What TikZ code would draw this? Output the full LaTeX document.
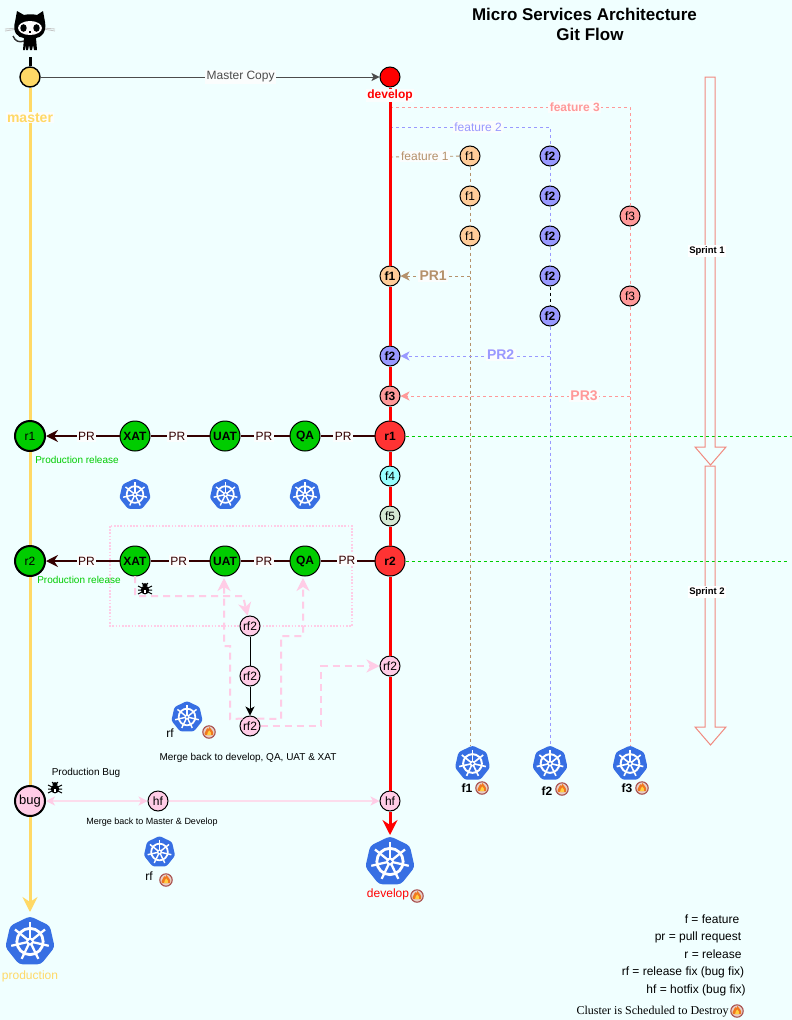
\documentclass[tikz,border=0pt]{standalone}
\usepackage{fontspec}
\setmainfont{Liberation Sans}
\newfontfamily\serifface{Liberation Serif}
\usetikzlibrary{arrows.meta,calc}
\definecolor{bgc}{HTML}{F0FFFF}
\definecolor{gityellow}{HTML}{FFD966}
\definecolor{devred}{HTML}{FF0000}
\definecolor{relred}{HTML}{FF3333}
\definecolor{okgreen}{HTML}{00CC00}
\definecolor{prdark}{HTML}{330000}
\definecolor{fonec}{HTML}{FFCC99}
\definecolor{fonel}{HTML}{B5916B}
\definecolor{ftwoc}{HTML}{9999FF}
\definecolor{fthreec}{HTML}{FF9999}
\definecolor{ffourc}{HTML}{99FFFF}
\definecolor{ffivec}{HTML}{D5E8D4}
\definecolor{pinkc}{HTML}{FFCCE6}
\definecolor{pinklight}{HTML}{FCDCEC}
\definecolor{kubec}{HTML}{376FE3}
\definecolor{sprintc}{HTML}{F08A80}
\definecolor{lblbg}{HTML}{FBFDFD}
\definecolor{flring}{HTML}{A8504E}
\definecolor{flpale}{HTML}{E8D0C8}
\definecolor{florange}{HTML}{F07820}
\definecolor{flyellow}{HTML}{FFD040}
\newcommand{\fs}[1]{\fontsize{#1}{#1}\selectfont}
\newcommand{\kube}[3]{%
  \begin{scope}[shift={(#1,#2)},scale=#3]
    \fill[kubec,rounded corners=#3*0.14pt] (-90:1) -- (-38.57:1) -- (12.86:1) -- (64.29:1) -- (115.71:1) -- (167.14:1) -- (218.57:1) -- cycle;
    \draw[white,line width=#3*0.11pt] (0,0) circle (0.52);
    \foreach \a in {-90,-38.57,12.86,64.29,115.71,167.14,218.57}{
      \draw[white,line width=#3*0.09pt] (\a:0.1) -- (\a:0.76);
    }
    \fill[white] (0,0) circle (0.16);
    \fill[kubec] (0,0) circle (0.07);
  \end{scope}}
\newcommand{\flameicon}[2]{%
  \begin{scope}[shift={(#1,#2)}]
    \fill[flpale,draw=flring,line width=1.1pt] (0,0) circle (6.2);
    \fill[florange] (-4.2,3.2) .. controls (-5.2,-0.5) and (-2.2,-1.2) .. (-1.8,-3.8) .. controls (-0.8,-2.8) and (0,-2.4) .. (0.4,-5) .. controls (2.2,-2.6) and (5,-0.6) .. (4.2,3.2) -- cycle;
    \fill[flyellow] (-2,3.2) .. controls (-2.6,0.8) and (0,0) .. (0.2,-1.6) .. controls (1.6,0) and (2.6,1) .. (2,3.2) -- cycle;
  \end{scope}}
\newcommand{\bugicon}[2]{%
  \begin{scope}[shift={(#1,#2)}]
    \fill[black] (0,1) ellipse (4.2 and 4.4);
    \fill[black] (0,-4) ellipse (2.6 and 1.8);
    \draw[black,line width=1pt] (-7,-3) -- (-3,-1) (7,-3) -- (3,-1) (-7,1) -- (3,1) (7,1) -- (-3,1) (-7,5) -- (-3,3) (7,5) -- (3,3) (-3,-6) -- (-1,-4) (3,-6) -- (1,-4);
    \fill[white] (-0.6,1) rectangle (0.6,4);
  \end{scope}}
\tikzset{
  x=1pt,y=-1pt,
  smalltip/.tip={Stealth[length=9pt,width=9pt,inset=2.5pt,color=pinkc]},
  gitnode/.style={circle,draw=black,line width=1pt,minimum size=20pt,inner sep=0pt,font=\fs{12}},
  fone/.style={gitnode,fill=fonec},
  ftwo/.style={gitnode,fill=ftwoc,font=\fs{12}\bfseries},
  fthree/.style={gitnode,fill=fthreec},
  rfnode/.style={gitnode,fill=pinkc},
  relnode/.style={gitnode,minimum size=30pt,fill=relred,font=\fs{12}\bfseries},
  envnode/.style={gitnode,minimum size=30pt,fill=okgreen,font=\fs{12}\bfseries},
  prodnode/.style={gitnode,minimum size=30pt,fill=okgreen,line width=2pt},
  flbl/.style={fill=lblbg,inner sep=1.5pt,font=\fs{12}},
  prlbl/.style={fill=lblbg,inner sep=1.5pt,text=prdark,font=\fs{12}},
  prline/.style={prdark,line width=2pt},
  prtiped/.style={-{Stealth[length=12pt,width=12pt,inset=4pt]}},
  fdash/.style={line width=0.9pt,dash pattern=on 3pt off 3pt},
  prtip/.style={-{Stealth[length=9pt,width=9pt,inset=2.5pt]}},
  pinkdash/.style={pinkc,line width=2pt,dash pattern=on 7pt off 5pt},
  pinktip/.style={-{Stealth[length=13pt,width=13pt,inset=4pt]}},
  txt/.style={inner sep=0pt,font=\fs{12}},
  sprint/.style={sprintc,line width=1pt},
  sprintlbl/.style={fill=white,inner sep=1.5pt,font=\fs{9.5}\bfseries},
}
\begin{document}
\begin{tikzpicture}
\fill[bgc] (0,0) rectangle (792,1020);
\useasboundingbox (0,0) rectangle (792,1020);

% octocat
\begin{scope}
  \draw[gray!45,line width=0.8pt] (5,31) -- (18,29) (5,29) -- (18,28) (43,29) -- (55,31) (43,28) -- (55,29);
  \fill[black] (15,22) -- (17,11) -- (24,15) .. controls (28,14) and (33,14) .. (37,15) -- (43,11) -- (45,22) .. controls (47,32) and (41,38) .. (36,38) -- (37,50) -- (34,50) -- (33,45) -- (32,50) -- (30,50) -- (29,45) -- (28,50) -- (26,50) -- (26,45) -- (25,50) -- (23,50) -- (24,38) .. controls (18,38) and (12,32) .. (15,22) -- cycle;
  \fill[white!95!pink] (30,28) ellipse (12 and 7);
  \fill[black] (23.5,28) ellipse (3.2 and 3.8);
  \fill[black] (36.5,28) ellipse (3.2 and 3.8);
  \fill[black] (29,31) rectangle (31,32.5);
  \draw[black!80,line width=1.4pt] (13,36) .. controls (15,41) and (19,43) .. (24,41);
\end{scope}
\coordinate (octo) at (30,57);

% dotted frame behind the nodes
\draw[pinkc,line width=1.6pt,dash pattern=on 1.6pt off 1.6pt] (110,526) rectangle (352,626);

% main nodes
\node[gitnode,fill=gityellow,line width=1.4pt] (master) at (30,77) {};
\node[gitnode,fill=devred] (develop) at (390,77) {};
\node[fone,font=\fs{12}\bfseries] (mf1) at (390,276) {f1};
\node[ftwo] (mf2) at (390,356) {f2};
\node[fthree,font=\fs{12}\bfseries] (mf3) at (390,396) {f3};
\node[relnode] (r1) at (390,436) {r1};
\node[gitnode,fill=ffourc] (f4) at (390,476) {f4};
\node[gitnode,fill=ffivec] (f5) at (390,516) {f5};
\node[relnode] (r2) at (390,561) {r2};
\node[rfnode] (drf) at (390,666) {rf2};
\node[rfnode] (dhf) at (390,801) {hf};
\coordinate (devend) at (390,835);
\coordinate (prodend) at (30,912);

\node[prodnode] (pr1) at (30,436) {r1};
\node[envnode] (xat1) at (135,436) {XAT};
\node[envnode] (uat1) at (225,436) {UAT};
\node[envnode] (qa1) at (305,436) {QA};
\node[prodnode] (pr2) at (30,561) {r2};
\node[envnode] (xat2) at (135,561) {XAT};
\node[envnode] (uat2) at (225,561) {UAT};
\node[envnode] (qa2) at (305,561) {QA};
\node[gitnode,minimum size=30pt,fill=pinkc,line width=2pt,font=\fs{13}] (bug) at (30,801) {bug};
\node[rfnode] (hf) at (158,801) {hf};

% feature nodes
\node[fone] (fa) at (470,156) {f1};
\node[fone] (fb) at (470,196) {f1};
\node[fone] (fc) at (470,236) {f1};
\node[ftwo] (ga) at (550,156) {f2};
\node[ftwo] (gb) at (550,196) {f2};
\node[ftwo] (gc) at (550,236) {f2};
\node[ftwo] (gd) at (550,276) {f2};
\node[ftwo] (ge) at (550,316) {f2};
\node[fthree] (ha) at (630,216) {f3};
\node[fthree] (hb) at (630,296) {f3};
\node[rfnode] (rfa) at (250,626) {rf2};
\node[rfnode] (rfb) at (250,676) {rf2};
\node[rfnode] (rfc) at (250,726) {rf2};

\coordinate (fs) at (390,157);
\coordinate (gs) at (390,127);
\coordinate (hs) at (390,107);
\coordinate (gt) at (550,127);
\coordinate (ht) at (630,107);
\coordinate (fe) at (470,746);
\coordinate (ge2) at (550,746);
\coordinate (he) at (630,746);
\coordinate (fp) at (470,276);
\coordinate (gp) at (550,356);
\coordinate (hp) at (630,396);

% feature lines
\draw[fonel,fdash] (fs) -- node[flbl,pos=.5,text=fonel] (lf1) {feature 1} (fa);
\draw[fonel,fdash] (fa) -- (fb);
\draw[fonel,fdash] (fb) -- (fc);
\draw[fonel,fdash] (fc) -- (fe);
\draw[ftwoc,fdash] (gs) -- node[flbl,pos=.55,text=ftwoc] (lf2) {feature 2} (gt) -- (ga);
\draw[ftwoc,fdash] (ga) -- (gb);
\draw[ftwoc,fdash] (gb) -- (gc);
\draw[ftwoc,fdash] (gc) -- (gd);
\draw[black,fdash] (gd) -- (ge);
\draw[ftwoc,fdash] (ge) -- (ge2);
\draw[fthreec,fdash] (hs) -- node[flbl,pos=.77,text=fthreec,font=\fs{12}\bfseries] (lf3) {feature 3} (ht) -- (ha);
\draw[fthreec,fdash] (ha) -- (hb);
\draw[fthreec,fdash] (hb) -- (he);

% pull requests of the features
\draw[fonel,fdash,prtip] (fp) -- node[flbl,pos=.53,font=\fs{14}\bfseries,text=fonel] (lp1) {PR1} (mf1);
\draw[ftwoc,fdash,prtip] (gp) -- node[flbl,pos=.33,yshift=1pt,font=\fs{14}\bfseries,text=ftwoc] (lp2) {PR2} (mf2);
\draw[fthreec,fdash,prtip] (hp) -- node[flbl,pos=.2,font=\fs{14}\bfseries,text=fthreec] (lp3) {PR3} (mf3);

% sprint boundary lines
\coordinate (gr1) at (792,436);
\coordinate (gr2) at (788,561);
\draw[okgreen,line width=0.9pt,dash pattern=on 3pt off 3pt] (r1) -- (gr1);
\draw[okgreen,line width=0.9pt,dash pattern=on 3pt off 3pt] (r2) -- (gr2);

% develop trunk
\draw[devred,line width=3pt] (develop) -- node[pos=.045,fill=lblbg,inner sep=1pt,text=devred,font=\fs{12}\bfseries] (ldev) {develop} (mf1);
\draw[devred,line width=3pt] (mf1) -- (mf2);
\draw[devred,line width=3pt] (mf2) -- (mf3);
\draw[devred,line width=3pt] (mf3) -- (r1);
\draw[devred,line width=3pt] (r1) -- (f4);
\draw[devred,line width=3pt] (f4) -- (f5);
\draw[devred,line width=3pt] (f5) -- (r2);
\draw[devred,line width=3pt] (r2) -- (drf);
\draw[devred,line width=3pt] (drf) -- (dhf);
\draw[devred,line width=3pt,-{Stealth[length=15pt,width=15pt,inset=5pt]}] (dhf) -- (devend);

% master trunk
\draw[black,line width=3pt] (octo) -- (master);
\draw[gityellow,line width=3pt] (master) -- node[pos=.09,fill=lblbg,inner sep=1pt,text=gityellow,font=\fs{14}\bfseries] (lmaster) {master} (pr1);
\draw[gityellow,line width=3pt] (pr1) -- (pr2);
\draw[gityellow,line width=3pt] (pr2) -- (bug);
\draw[gityellow,line width=3pt,-{Stealth[length=15pt,width=15pt,inset=5pt]}] (bug) -- (prodend);
\draw[black!70,line width=1pt,-{Stealth[length=8pt,width=8pt,inset=2pt]}] (master) -- node[flbl,pos=.59] (lcopy) {Master Copy} (develop);

% release rows
\draw[prline] (r1) -- node[prlbl,pos=.58] (p1a) {PR} (qa1);
\draw[prline] (qa1) -- node[prlbl,pos=.52] (p1b) {PR} (uat1);
\draw[prline] (uat1) -- node[prlbl,pos=.55] (p1c) {PR} (xat1);
\draw[prline,prtiped] (xat1) -- node[prlbl,pos=.45] (p1d) {PR} (pr1);
\draw[prline] (r2) -- node[prlbl,pos=.51,yshift=1pt] (p2a) {PR} (qa2);
\draw[prline] (qa2) -- node[prlbl,pos=.52] (p2b) {PR} (uat2);
\draw[prline] (uat2) -- node[prlbl,pos=.52] (p2c) {PR} (xat2);
\draw[prline,prtiped] (xat2) -- node[prlbl,pos=.45] (p2d) {PR} (pr2);

% release fix area
\coordinate (ba) at (135,576);
\coordinate (bb) at (135,596);
\coordinate (bc) at (243,596);
\draw[pinkdash,pinktip] (ba) -- (bb) -- (bc) -- (rfa);
\draw[black,line width=1pt] (rfa) -- (rfb);
\draw[black,line width=1pt,-{Stealth[length=9pt,width=9pt,inset=2.5pt]}] (rfb) -- (rfc);
\coordinate (ua) at (230,719);
\coordinate (ub) at (230,646);
\coordinate (uc) at (224,646);
\coordinate (ud) at (224,578);
\draw[pinkdash,pinktip] (rfc.135) -- (ua) -- (ub) -- (uc) -- (ud);
\coordinate (qa) at (281,719);
\coordinate (qb) at (281,636);
\coordinate (qc) at (303,636);
\coordinate (qd) at (303,578);
\draw[pinkdash,pinktip] (rfc.45) -- (qa) -- (qb) -- (qc) -- (qd);
\coordinate (dl) at (321,726);
\coordinate (dm) at (321,666);
\draw[pinkdash,pinktip] (rfc) -- (dl) -- (dm) -- (drf);

% hotfix
\draw[pinklight,line width=1.4pt,smalltip-smalltip] (bug) -- (hf);
\draw[pinklight,line width=1.4pt,-smalltip] (hf) -- (dhf);

% sprint arrows
\draw[sprint] (705,447) -- (705,77) -- (715,77) -- (715,447) -- (726,447) -- (710.5,465) -- (695,447) -- cycle;
\draw[sprint] (705,727) -- (705,466) -- (715,466) -- (715,727) -- (726,727) -- (710.5,745) -- (695,727) -- cycle;
\node[sprintlbl] (s1) at (707,251) {Sprint 1};
\node[sprintlbl] (s2) at (707,592) {Sprint 2};

% clusters
\kube{135}{494.5}{16}
\kube{225.5}{494.5}{16}
\kube{305}{494.5}{16}
\kube{187}{717}{16}
\kube{159.5}{852}{16}
\kube{390}{861.5}{25.3}
\kube{30}{941.5}{25.3}
\kube{472.5}{763.5}{18}
\kube{550}{763.5}{18}
\kube{630}{763.5}{18}

% flames
\flameicon{209}{732}
\flameicon{166}{880}
\flameicon{417}{896}
\flameicon{482}{788}
\flameicon{562}{789}
\flameicon{642}{788}
\flameicon{737}{1011}

% bugs
\bugicon{145}{589}
\bugicon{55}{788}

% texts
\node[inner sep=0pt,align=center,font=\fontsize{17}{20}\selectfont\bfseries] (title) at (584.5,24) {Micro Services Architecture\\\hspace*{11pt}Git Flow};
\node[txt,font=\fs{10},text=okgreen] (pa) at (77,460) {Production release};
\node[txt,font=\fs{10},text=okgreen] (pb) at (79,580) {Production release};
\node[txt,font=\fs{10}] (mb1) at (248,758) {Merge back to develop, QA, UAT \& XAT};
\node[txt,font=\fs{10}] (pbug) at (86,773) {Production Bug};
\node[txt,font=\fs{9}] (mb2) at (152,822) {Merge back to Master \& Develop};
\node[txt] (rfa1) at (170,733) {rf};
\node[txt] (rfa2) at (149,876) {rf};
\node[txt,font=\fs{12}\bfseries] (c1) at (467,788) {f1};
\node[txt,font=\fs{12}\bfseries] (c2) at (547,791) {f2};
\node[txt,font=\fs{12}\bfseries] (c3) at (627,788) {f3};
\node[txt,text=devred] (cdev) at (388,894) {develop};
\node[txt,text=gityellow] (cprod) at (30,976) {production};
\node[txt] (l1) at (712,919) {f = feature};
\node[txt] (l2) at (698,937) {pr = pull request};
\node[txt] (l3) at (713,954) {r = release};
\node[txt] (l4) at (683,972) {rf = release fix (bug fix)};
\node[txt] (l5) at (696,990) {hf = hotfix (bug fix)};
\node[txt,font=\fs{12}\serifface] (l6) at (652.5,1012) {Cluster is Scheduled to Destroy};
\end{tikzpicture}
\end{document}
